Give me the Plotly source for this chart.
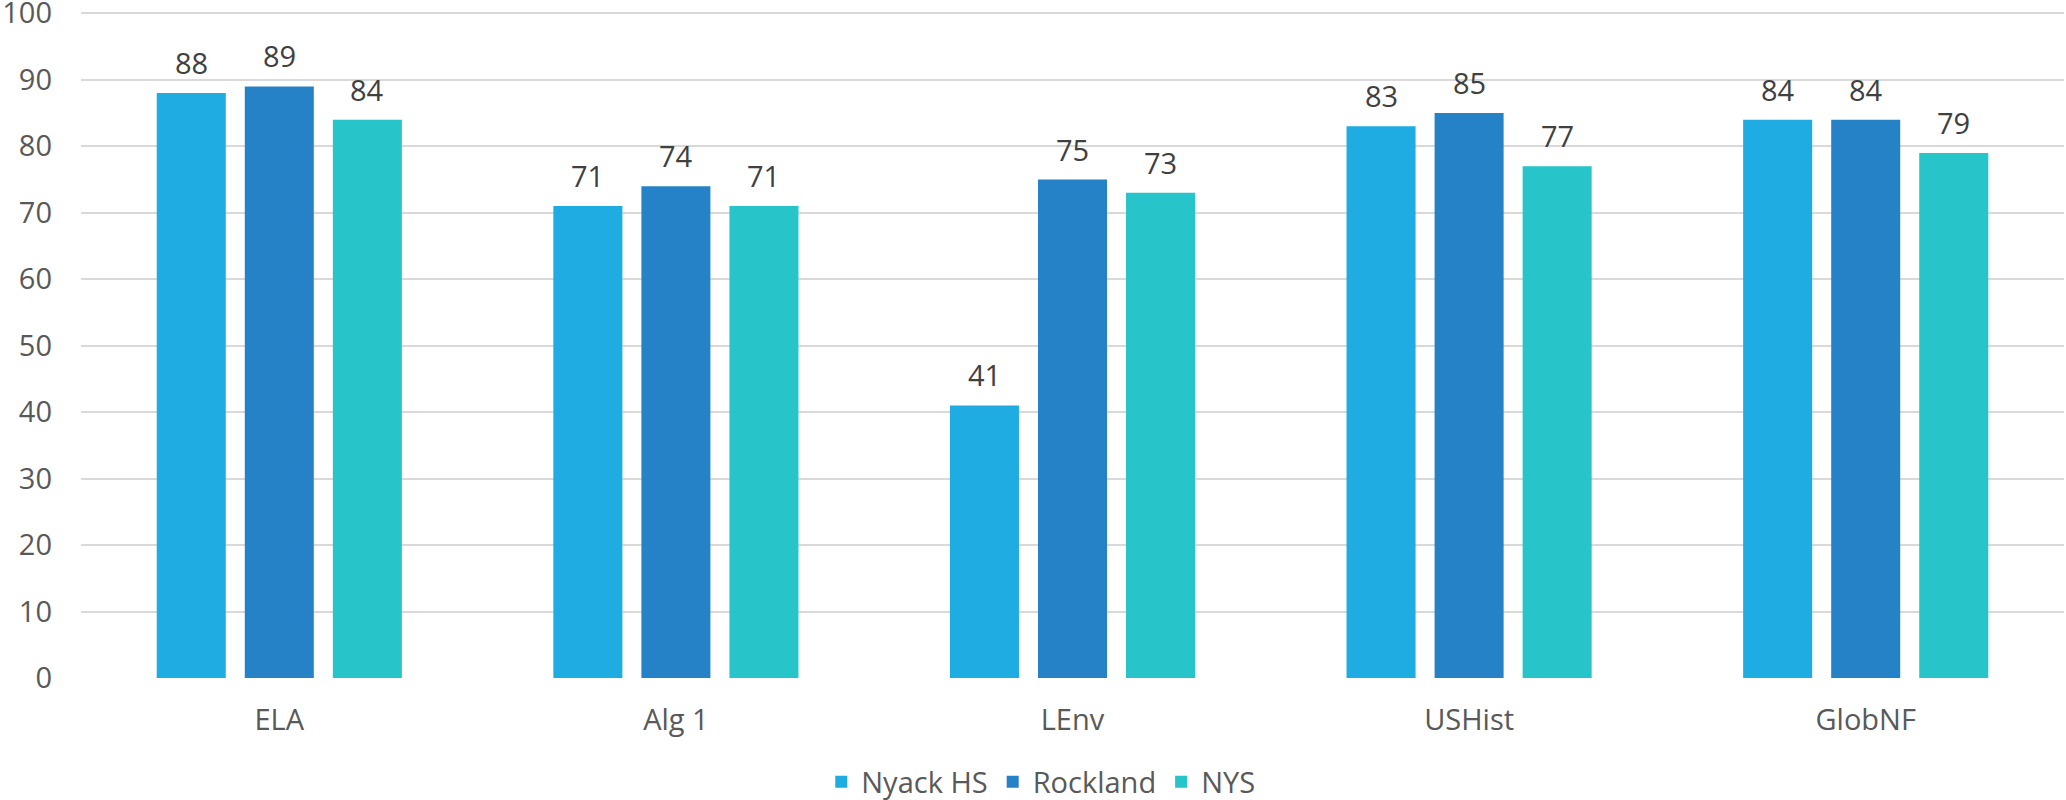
import plotly.graph_objects as go

categories = ["ELA", "Alg 1", "LEnv", "USHist", "GlobNF"]
nyack_hs = [88, 71, 41, 83, 84]
rockland = [89, 74, 75, 85, 84]
nys = [84, 71, 73, 77, 79]
series_names = ["Nyack HS", "Rockland", "NYS"]
colors = ["#1EACE3", "#2682C6", "#27C4CA"]
y_ticks = [0, 10, 20, 30, 40, 50, 60, 70, 80, 90, 100]

FONT = "Open Sans"
series = [nyack_hs, rockland, nys]

fig = go.Figure()
for name, vals, col in zip(series_names, series, colors):
    fig.add_trace(go.Bar(
        x=categories, y=vals, name=name,
        marker=dict(color=col, line=dict(width=0)),
    ))

# data labels above bars
slot_px = 88
for i, vals in enumerate(series):
    for cat, v in zip(categories, vals):
        fig.add_annotation(
            x=cat, y=v, xref="x", yref="y",
            text=str(v), showarrow=False,
            xshift=(i - 1) * slot_px, yshift=9,
            yanchor="bottom", xanchor="center",
            font=dict(family=FONT, size=29, color="#404040"),
        )

fig.update_layout(
    width=2066, height=800,
    margin=dict(l=81, r=2, t=12, b=122, autoexpand=False),
    paper_bgcolor="white", plot_bgcolor="white",
    barmode="group", bargap=0.334, bargroupgap=0.216,
    font=dict(family=FONT, size=29, color="#595959"),
    showlegend=True,
    legend=dict(
        orientation="h", x=0.484, y=-0.156, xanchor="center", yanchor="middle",
        font=dict(family=FONT, size=29, color="#595959"),
        itemclick=False,
    ),
)
fig.update_yaxes(
    range=[0, 100.2], tickvals=y_ticks, showgrid=True, automargin=False,
    gridcolor="#D9D9D9", gridwidth=2, zeroline=False, showline=False,
    ticks="", ticklabelstandoff=28, ticklabeloverflow="allow",
    tickfont=dict(family=FONT, size=29, color="#595959"),
)
fig.update_xaxes(
    showgrid=False, zeroline=False, showline=False, ticks="", automargin=False,
    ticklabelstandoff=22, ticklabeloverflow="allow",
    tickfont=dict(family=FONT, size=29, color="#595959"),
)

fig.write_html(
    "out.html",
    config={"displayModeBar": False},
    post_script="document.body.style.margin='0';document.body.style.overflow='hidden';",
)
